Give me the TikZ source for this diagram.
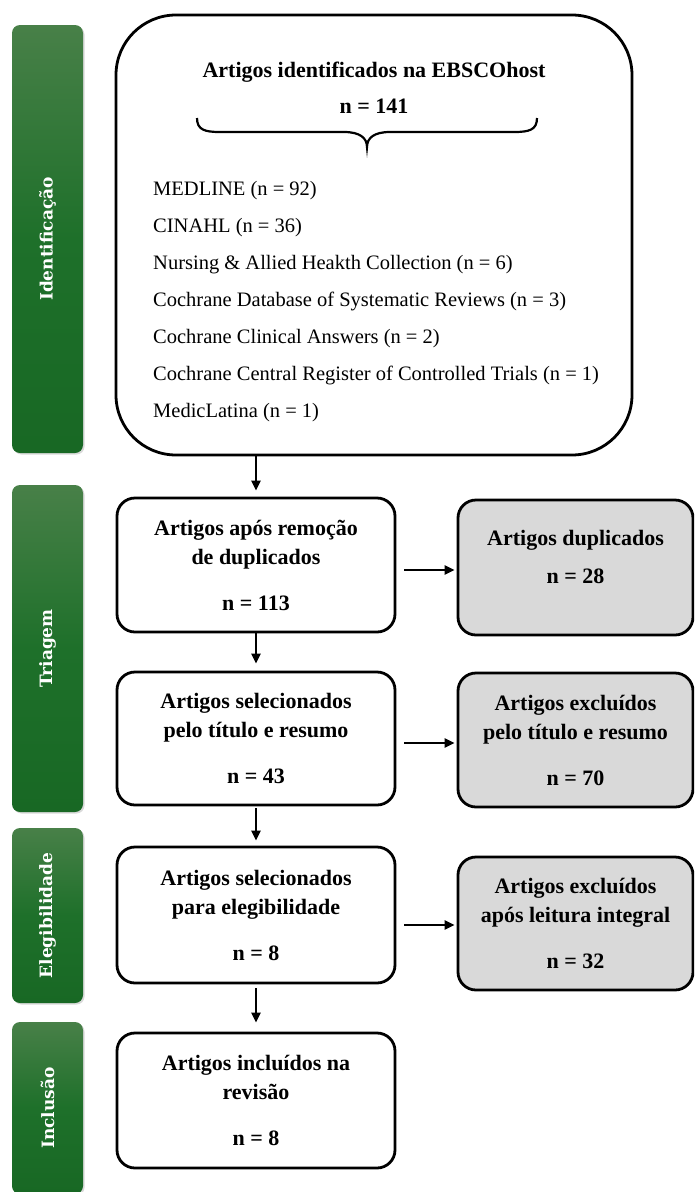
\documentclass[tikz,border=0pt]{standalone}
\usepackage{fontspec}
\setmainfont{Liberation Serif}
\newfontfamily\barfont{DejaVu Serif}
\usetikzlibrary{arrows.meta,shadows}
\definecolor{boxgray}{RGB}{217,217,217}
\definecolor{gLight}{RGB}{72,128,72}
\definecolor{gMid}{RGB}{30,112,42}
\definecolor{gDark}{RGB}{24,104,36}
\begin{document}
\begin{tikzpicture}[x=1pt,y=1pt,
  phase/.style={rounded corners=8pt, rotate=90, inner sep=0pt,
    top color=gLight, bottom color=gDark, middle color=gMid,
    text=white, font=\barfont\bfseries\fontsize{17}{20}\selectfont,
    drop shadow={shadow xshift=1.5pt,shadow yshift=-1.5pt,opacity=0.3},
    minimum height=71pt},
  stepbox/.style={draw=black, line width=2.8pt, rounded corners=18pt, fill=white,
    align=center, inner sep=0pt, font=\bfseries\fontsize{22}{29}\selectfont,
    minimum width=278pt},
  exclbox/.style={stepbox, fill=boxgray, minimum width=235pt},
  arr/.style={-{Triangle[length=10pt,width=9pt]}, line width=2.4pt}]
\useasboundingbox (0,0) rectangle (694,-1192);
\clip (0,0) rectangle (694,-1192);

% phase bars
\node[phase, minimum width=428pt] (pid) at (47.5,-239) {Identificação};
\node[phase, minimum width=327pt] (ptr) at (47.5,-648.5) {Triagem};
\node[phase, minimum width=175pt] (pel) at (47.5,-915.5) {Elegibilidade};
\node[phase, minimum width=172pt] (pin) at (47.5,-1108) {Inclusão};

% big identification box
\node[draw=black, line width=2.8pt, rounded corners=60pt, minimum width=516pt,
  minimum height=440pt, inner sep=0pt] (big) at (374,-235) {};
\node[align=center, inner sep=0pt, font=\bfseries\fontsize{22}{29}\selectfont]
  (title) at (374,-87.5) {Artigos identificados na EBSCOhost\\[7pt]n = 141};
\draw[line width=2.2pt]
  (197,-118) .. controls (197,-130) and (205,-132) .. (220,-132) -- (344,-132)
  .. controls (360,-132) and (367,-138) .. (367,-147)
  .. controls (367,-138) and (374,-132) .. (390,-132) -- (514,-132)
  .. controls (529,-132) and (537,-130) .. (537,-118);
\node[align=left, anchor=north west, inner sep=0pt, font=\fontsize{20.5}{37}\selectfont]
  (list) at (153,-181) {MEDLINE (n = 92)\\
  CINAHL (n = 36)\\
  Nursing \& Allied Heakth Collection (n = 6)\\
  Cochrane Database of Systematic Reviews (n = 3)\\
  Cochrane Clinical Answers (n = 2)\\
  Cochrane Central Register of Controlled Trials (n = 1)\\
  MedicLatina (n = 1)};

% main flow boxes
\node[stepbox, minimum height=134pt] (b1) at (256,-565)
  {Artigos após remoção\\de duplicados\\[17pt]n = 113};
\node[stepbox, minimum height=133pt] (b2) at (256,-738.5)
  {Artigos selecionados\\pelo título e resumo\\[17pt]n = 43};
\node[stepbox, minimum height=136pt] (b3) at (256,-915)
  {Artigos selecionados\\para elegibilidade\\[17pt]n = 8};
\node[stepbox, minimum height=135pt] (b4) at (256,-1100.5)
  {Artigos incluídos na\\revisão\\[17pt]n = 8};

% excluded boxes
\node[exclbox, minimum height=135pt] (d1) at (575.5,-567.5)
  {Artigos duplicados\\[9pt]n = 28\\[-8pt]\mbox{}};
\node[exclbox, minimum height=134pt] (d2) at (575.5,-740)
  {Artigos excluídos\\pelo título e resumo\\[17pt]n = 70};
\node[exclbox, minimum height=133pt] (d3) at (575.5,-923.5)
  {Artigos excluídos\\após leitura integral\\[17pt]n = 32};

% connectors
\draw[arr, shorten >=6pt] (b1.north |- big.south) -- (b1.north);
\draw[arr, shorten >=7pt] (b1.south) -- (b2.north);
\draw[arr, shorten >=5pt, shorten <=2pt] (b2.south) -- (b3.north);
\draw[arr, shorten >=9pt, shorten <=4pt] (b3.south) -- (b4.north);
\draw[arr, shorten <=8pt, shorten >=2pt] ([yshift=-5pt]b1.east) -- ([yshift=-5pt]b1.east -| d1.west);
\draw[arr, shorten <=8pt, shorten >=2pt] ([yshift=-4.5pt]b2.east) -- ([yshift=-4.5pt]b2.east -| d2.west);
\draw[arr, shorten <=8pt, shorten >=2pt] ([yshift=-10pt]b3.east) -- ([yshift=-10pt]b3.east -| d3.west);
\end{tikzpicture}
\end{document}
